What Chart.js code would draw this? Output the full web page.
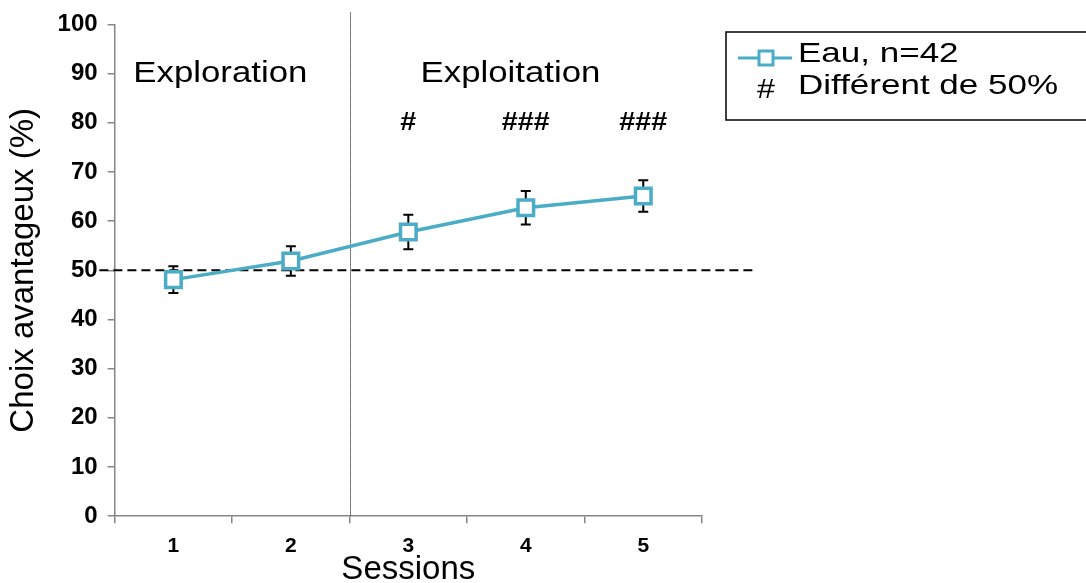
<!DOCTYPE html>
<html>
<head>
<meta charset="utf-8">
<script src="https://cdn.jsdelivr.net/npm/chart.js@4.4.1/dist/chart.umd.min.js"></script>
<style>
  html, body { margin: 0; padding: 0; background: #fff; }
  #wrap { width: 1086px; height: 583px; }
</style>
</head>
<body>
<div id="wrap"><canvas id="myChart" width="1086" height="583"></canvas></div>
<script>
const sessions = ["1", "2", "3", "4", "5"];
const eauMoyenne = [48.1, 51.9, 57.8, 62.7, 65.1];
const eauErreur = [2.7, 3.0, 3.5, 3.4, 3.2];
const seuil = 50;
const ticksY = [0, 10, 20, 30, 40, 50, 60, 70, 80, 90, 100];
const phases = [
  { texte: "Exploration", x: 0.4, y: 90 },
  { texte: "Exploitation", x: 2.87, y: 90 }
];
const signif = [
  { texte: "#", x: 2, y: 80 },
  { texte: "###", x: 3, y: 80 },
  { texte: "###", x: 4, y: 80 }
];

const bleu = "#4bacc6";
const gris = "#868686";
const police = "'Liberation Sans', Arial, sans-serif";

// texte un peu étiré horizontalement, comme dans la figure d'origine
function texteEtire(ctx, t, x, y, etirement) {
  ctx.save();
  ctx.translate(x, y);
  ctx.scale(etirement, 1);
  ctx.fillText(t, 0, 0);
  ctx.restore();
}

// barres d'erreur, lignes de référence, annotations et légende
const extras = {
  id: "extras",
  beforeDatasetsDraw(chart) {
    const { ctx, chartArea } = chart;
    const xs = chart.scales.x, ys = chart.scales.y;
    ctx.save();
    // ligne pointillée verticale entre les sessions 2 et 3
    ctx.strokeStyle = "#000";
    ctx.lineWidth = 1;
    ctx.setLineDash([1, 1]);
    const xv = Math.round(xs.getPixelForValue(1.5)) + 0.5;
    ctx.beginPath();
    ctx.moveTo(xv, chartArea.top - 12);
    ctx.lineTo(xv, chartArea.bottom);
    ctx.stroke();
    // ligne de 50 %
    ctx.setLineDash([9, 5]);
    ctx.lineWidth = 2;
    const y50 = ys.getPixelForValue(seuil);
    ctx.beginPath();
    ctx.moveTo(xs.getPixelForValue(-0.63), y50);
    ctx.lineTo(xs.getPixelForValue(4.97), y50);
    ctx.stroke();
    ctx.setLineDash([]);
    // barres d'erreur
    ctx.lineWidth = 2;
    eauMoyenne.forEach((m, i) => {
      const x = xs.getPixelForValue(i);
      const yh = ys.getPixelForValue(m + eauErreur[i]);
      const yb = ys.getPixelForValue(m - eauErreur[i]);
      ctx.beginPath();
      ctx.moveTo(x, yh); ctx.lineTo(x, yb);
      ctx.moveTo(x - 5, yh); ctx.lineTo(x + 5, yh);
      ctx.moveTo(x - 5, yb); ctx.lineTo(x + 5, yb);
      ctx.stroke();
    });
    ctx.restore();
  },
  afterDraw(chart) {
    const { ctx } = chart;
    const xs = chart.scales.x, ys = chart.scales.y;
    ctx.save();
    ctx.fillStyle = "#000";
    ctx.textBaseline = "middle";
    ctx.textAlign = "center";
    ctx.font = "30px " + police;
    phases.forEach(p => texteEtire(ctx, p.texte, xs.getPixelForValue(p.x), ys.getPixelForValue(p.y), 1.16));
    ctx.font = "bold 25px " + police;
    signif.forEach(s => texteEtire(ctx, s.texte, xs.getPixelForValue(s.x), ys.getPixelForValue(s.y), 1.15));

    // légende encadrée
    const lx = 726, ly = 32;
    ctx.strokeStyle = "#000";
    ctx.lineWidth = 1.5;
    ctx.strokeRect(lx, ly, 400, 88);
    ctx.strokeStyle = bleu;
    ctx.lineWidth = 3;
    ctx.beginPath();
    ctx.moveTo(lx + 12, ly + 26);
    ctx.lineTo(lx + 66, ly + 26);
    ctx.stroke();
    ctx.fillStyle = "#fff";
    ctx.fillRect(lx + 33, ly + 19, 14, 14);
    ctx.strokeRect(lx + 33, ly + 19, 14, 14);
    ctx.fillStyle = "#000";
    ctx.textAlign = "left";
    ctx.font = "28px " + police;
    texteEtire(ctx, "Eau, n=42", lx + 72, ly + 22, 1.25);
    texteEtire(ctx, "Différent de 50%", lx + 72, ly + 54, 1.25);
    ctx.textAlign = "center";
    texteEtire(ctx, "#", lx + 40, ly + 58, 1.15);
    ctx.restore();
  }
};

new Chart(document.getElementById("myChart"), {
  type: "line",
  data: {
    labels: sessions,
    datasets: [{
      label: "Eau, n=42",
      data: eauMoyenne,
      borderColor: bleu,
      borderWidth: 3.5,
      pointStyle: "rect",
      pointRadius: 11,
      pointBorderWidth: 3.5,
      pointBackgroundColor: "#fff",
      pointBorderColor: bleu,
      tension: 0
    }]
  },
  options: {
    responsive: false,
    animation: false,
    layout: { padding: { top: 12, right: 384, left: 0, bottom: 0 } },
    scales: {
      x: {
        offset: true,
        grid: { offset: true, drawOnChartArea: false, tickLength: 7, color: gris, lineWidth: 1.5 },
        border: { color: gris, width: 1.5 },
        ticks: { color: "#000", font: { family: police, size: 21, weight: "bold" }, padding: 10 },
        title: { display: true, text: "Sessions", color: "#000", font: { family: police, size: 33 }, padding: { top: -18, bottom: -7 } }
      },
      y: {
        min: 0,
        max: 100,
        afterBuildTicks(scale) { scale.ticks = ticksY.map(v => ({ value: v })); },
        grid: { drawOnChartArea: false, tickLength: 7, color: gris, lineWidth: 1.5 },
        border: { color: gris, width: 1.5 },
        ticks: { color: "#000", font: { family: police, size: 24, weight: "bold" }, padding: 10 },
        title: { display: true, text: "Choix avantageux (%)", color: "#000", font: { family: police, size: 33 }, padding: { top: 4, bottom: 4 } }
      }
    },
    plugins: {
      legend: { display: false },
      tooltip: { enabled: false }
    }
  },
  plugins: [extras]
});
</script>
</body>
</html>
